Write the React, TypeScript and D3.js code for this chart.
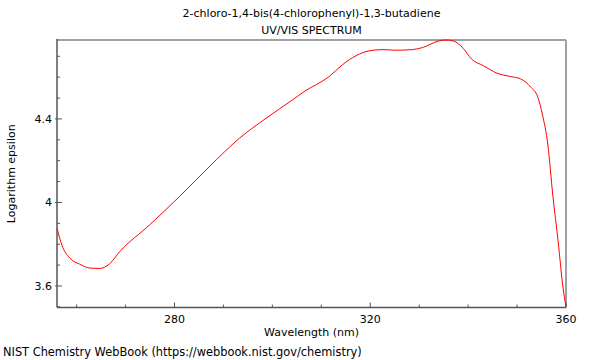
import * as d3 from "d3";

// UV/VIS spectrum
const wavelength = [
  256, 257, 258.6, 260.6, 262.7, 264.7, 266.7, 268.8, 274.9, 281.0, 287.1, 293.3,
  298.7, 304.1, 306.5, 311.6, 314.3, 317.1, 319.8, 322.5, 325.2, 328.6, 330.7,
  334.1, 335.5, 336.9, 339.0, 340.7, 343.2, 345.9, 348.7, 350.7, 352.9, 354.2,
  355.2, 356.3, 357.3, 358.4, 359.4, 360,
];
const logEpsilon = [
  3.878, 3.796, 3.734, 3.705, 3.686, 3.684, 3.705, 3.764, 3.892, 4.028, 4.171, 4.308,
  4.403, 4.491, 4.531, 4.603, 4.659, 4.703, 4.726, 4.732, 4.729, 4.732, 4.742,
  4.774, 4.778, 4.774, 4.738, 4.687, 4.654, 4.619, 4.603, 4.592, 4.55, 4.507,
  4.419, 4.275, 4.036, 3.812, 3.59, 3.501,
];
const xMajor = [280, 320, 360];
const xMinor = [260, 270, 290, 300, 310, 330, 340, 350];
const yMajor = [3.6, 4, 4.4];
const yMinor = [3.5, 3.7, 3.8, 3.9, 4.1, 4.2, 4.3, 4.5, 4.6, 4.7];

const title = "2-chloro-1,4-bis(4-chlorophenyl)-1,3-butadiene";
const subtitle = "UV/VIS SPECTRUM";
const footer = "NIST Chemistry WebBook (https://webbook.nist.gov/chemistry)";

export default function App() {
  const width = 600;
  const height = 360;
  const left = 57;
  const right = 566;
  const top = 40;
  const bottom = 307.5;
  const font = "DejaVu Sans, sans-serif";

  const x = d3.scaleLinear().domain([256, 360]).range([left, right]);
  const y = d3.scaleLinear().domain([3.497, 4.778]).range([bottom, top]);

  const points = wavelength.map((w, i) => [w, logEpsilon[i]] as [number, number]);
  const line = d3
    .line<[number, number]>()
    .x((d) => x(d[0]))
    .y((d) => y(d[1]))
    .curve(d3.curveMonotoneX);

  return (
    <svg
      width={width}
      height={height}
      style={{ position: "absolute", left: 0, top: 0, background: "#fff" }}
      fontFamily={font}
      fontSize={11}
    >
      <text x={(left + right) / 2} y={17} textAnchor="middle" fill="#000">
        {title}
      </text>
      <text x={(left + right) / 2} y={34} textAnchor="middle" fill="#000">
        {subtitle}
      </text>

      <line x1={left} x2={right} y1={top} y2={top} stroke="#a0a0a0" strokeWidth={2} />
      <line x1={right} x2={right} y1={top} y2={bottom} stroke="#a0a0a0" strokeWidth={2} />

      <path d={line(points) ?? ""} fill="none" stroke="#ff0000" strokeWidth={1} />

      <line x1={left} x2={left} y1={top - 1} y2={bottom} stroke="#555" strokeWidth={1.5} />
      <line x1={left} x2={right} y1={bottom} y2={bottom} stroke="#555" strokeWidth={1.5} />

      {xMinor.map((t) => (
        <line key={"xm" + t} x1={x(t)} x2={x(t)} y1={bottom} y2={bottom - 3} stroke="#555" />
      ))}
      {xMajor.map((t) => (
        <g key={"xM" + t}>
          <line x1={x(t)} x2={x(t)} y1={bottom} y2={bottom - 5} stroke="#555" />
          <text x={x(t)} y={323} textAnchor="middle" fill="#000">
            {t}
          </text>
        </g>
      ))}
      {yMinor.map((t) => (
        <line key={"ym" + t} x1={left} x2={left + 3} y1={y(t)} y2={y(t)} stroke="#555" />
      ))}
      {yMajor.map((t) => (
        <g key={"yM" + t}>
          <line x1={left - 2} x2={left + 5} y1={y(t)} y2={y(t)} stroke="#555" />
          <text x={52} y={y(t)} dy="0.35em" textAnchor="end" fill="#000">
            {d3.format("~g")(t)}
          </text>
        </g>
      ))}

      <text x={(left + right) / 2} y={336} textAnchor="middle" fill="#000">
        Wavelength (nm)
      </text>
      <text
        transform={`translate(15,${(top + bottom) / 2}) rotate(-90)`}
        textAnchor="middle"
        fill="#000"
      >
        Logarithm epsilon
      </text>
      <text x={3} y={356} fill="#000" fontSize={11.4}>
        {footer}
      </text>
    </svg>
  );
}
